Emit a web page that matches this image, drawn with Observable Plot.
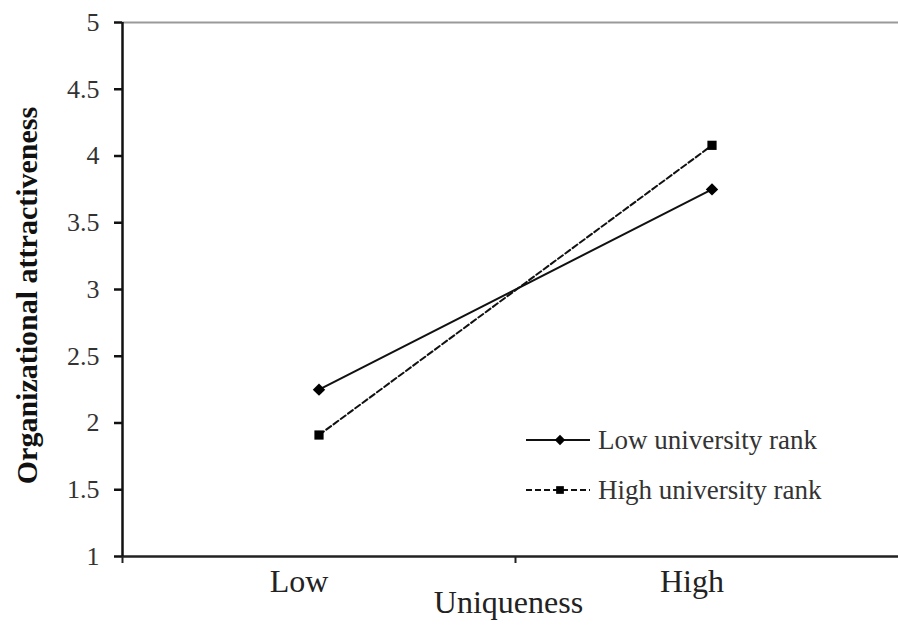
<!DOCTYPE html>
<html>
<head>
<meta charset="utf-8">
<script src="https://cdn.jsdelivr.net/npm/d3@7"></script>
<script src="https://cdn.jsdelivr.net/npm/@observablehq/plot@0.6"></script>
<style>
  html, body { margin: 0; padding: 0; background: #fff; }
  #wrap { position: relative; width: 898px; height: 629px; }
  #legend { position: absolute; left: 520px; top: 420px; }
</style>
</head>
<body>
<div id="wrap"></div>
<script>
// ---- data ----
const categories = ["Low", "High"];                       // Uniqueness levels
const seriesNames = ["Low university rank", "High university rank"];
const lowRankValues = [2.25, 3.75];
const highRankValues = [1.91, 4.08];
const yTicks = [1, 1.5, 2, 2.5, 3, 3.5, 4, 4.5, 5];
const xTitle = "Uniqueness";
const yTitle = "Organizational attractiveness";

const seriesValues = [lowRankValues, highRankValues];
const rows = [];
seriesNames.forEach((s, si) => {
  categories.forEach((c, ci) => {
    rows.push({series: s, pos: ci + 0.5, value: seriesValues[si][ci]});
  });
});
const boundaries = d3.range(categories.length + 1);
const dashes = {"Low university rank": null, "High university rank": "6,3"};
const symbols = {"Low university rank": "diamond2", "High university rank": "square"};
const radii = {"Low university rank": 5.6, "High university rank": 5.2};

const font = "'Liberation Serif', 'Times New Roman', serif";

const chart = Plot.plot({
  width: 898,
  height: 629,
  marginLeft: 122,
  marginRight: 0,
  marginTop: 22,
  marginBottom: 73,
  style: {fontFamily: font, color: "#222", background: "#fff"},
  x: {type: "linear", domain: [0, categories.length], range: [122, 908], axis: null},
  y: {domain: [1, 5], axis: null},
  marks: [
    Plot.ruleY([5], {stroke: "#9a9a9a", strokeWidth: 2}),
    Plot.ruleY([1], {stroke: "#222", strokeWidth: 2.5}),
    Plot.ruleX([0], {stroke: "#111", strokeWidth: 2.5}),
    Plot.axisY({ticks: yTicks, tickSize: 8, tickPadding: 15, strokeWidth: 2.5, stroke: "#111",
                fill: "#333", fontSize: 26, label: null, tickFormat: d => String(d)}),
    Plot.axisX({ticks: boundaries, tickSize: 7, strokeWidth: 2, stroke: "#222",
                tickFormat: () => "", label: null}),
    Plot.text(categories, {x: (d, i) => i + 0.5, frameAnchor: "bottom", dy: 35, dx: -20,
                           fontSize: 32, fill: "#222", text: d => d}),
    Plot.text([xTitle], {frameAnchor: "bottom", dy: 56, dx: -2, fontSize: 32, fill: "#222", text: d => d}),
    Plot.text([yTitle], {frameAnchor: "left", textAnchor: "middle", rotate: -90, dx: -95, dy: 6,
                         fontSize: 30, fontWeight: "bold", fill: "#111", text: d => d}),
    ...seriesNames.map(s => Plot.line(rows.filter(r => r.series === s), {
      x: "pos", y: "value", stroke: "#111", strokeWidth: 2,
      strokeDasharray: dashes[s]
    })),
    ...seriesNames.map(s => Plot.dot(rows.filter(r => r.series === s), {
      x: "pos", y: "value", fill: "#000", stroke: "none",
      symbol: symbols[s], r: radii[s]
    }))
  ]
});

const wrap = document.getElementById("wrap");
wrap.appendChild(chart);

// ---- legend (inside plot area, lower right) ----
const leg = d3.select(wrap).append("svg")
  .attr("id", "legend").attr("width", 330).attr("height", 100);
seriesNames.forEach((s, i) => {
  const yy = 20 + i * 50;
  leg.append("line").attr("x1", 6).attr("x2", 70).attr("y1", yy).attr("y2", yy)
    .attr("stroke", "#111").attr("stroke-width", 2)
    .attr("stroke-dasharray", dashes[s]);
  const sym = symbols[s] === "square" ? d3.symbolSquare : d3.symbolDiamond2;
  leg.append("path").attr("transform", `translate(40,${yy})`)
    .attr("d", d3.symbol(sym, Math.PI * radii[s] * radii[s] * 0.7)())
    .attr("fill", "#000");
  leg.append("text").attr("x", 78).attr("y", yy).attr("dy", "0.33em")
    .attr("font-family", font).attr("font-size", 27).attr("fill", "#333")
    .text(s);
});
</script>
</body>
</html>
